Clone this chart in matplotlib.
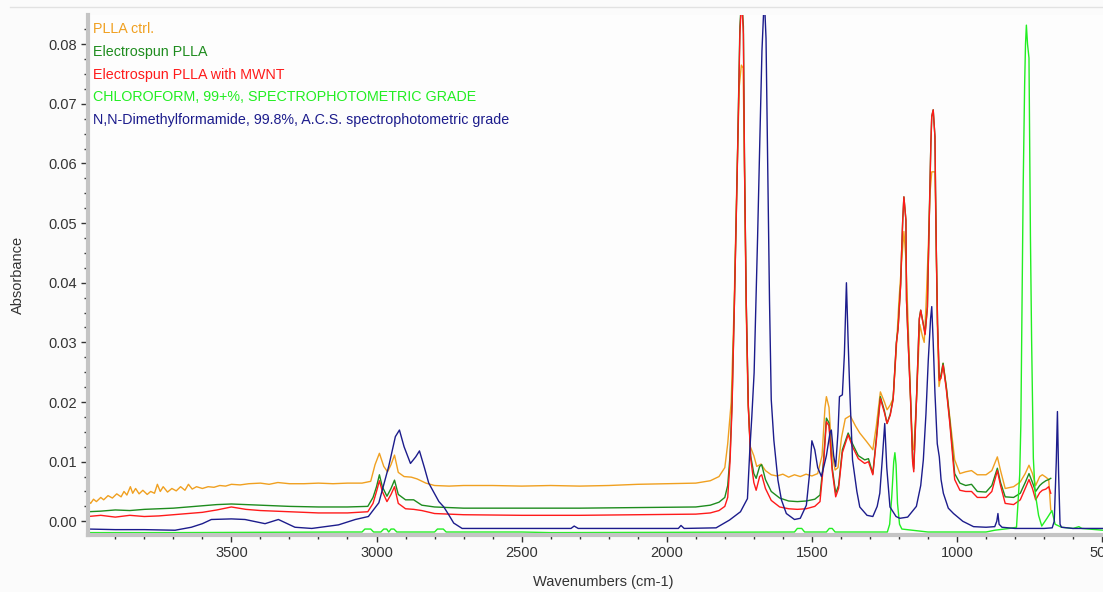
import matplotlib
matplotlib.use('Agg')
import matplotlib.pyplot as plt
from matplotlib.lines import Line2D
from matplotlib.ticker import MultipleLocator

plt.rcParams['font.family'] = ['Liberation Sans', 'DejaVu Sans']

# ---- data (wavenumber cm-1, absorbance) ----
ctrl_wn = [3994, 3985, 3975, 3965, 3950, 3940, 3925, 3910, 3895, 3880, 3870, 3860, 3848, 3840,
           3830, 3818, 3805, 3790, 3778, 3765, 3755, 3745, 3735, 3720, 3705, 3690, 3675, 3660,
           3648, 3635, 3620, 3600, 3580, 3560, 3540, 3520, 3500, 3470, 3440, 3400, 3370, 3340,
           3300, 3250, 3200, 3150, 3100, 3050, 3020, 3005, 2990, 2975, 2962, 2950, 2938, 2925,
           2905, 2880, 2860, 2830, 2800, 2750, 2700, 2600, 2500, 2400, 2300, 2200, 2100, 2000,
           1900, 1850, 1820, 1800, 1790, 1778, 1768, 1758, 1750, 1743, 1737, 1732, 1727, 1720,
           1712, 1700, 1690, 1675, 1660, 1640, 1620, 1600, 1580, 1560, 1540, 1520, 1500, 1480,
           1465, 1455, 1450, 1441, 1432, 1420, 1410, 1398, 1385, 1375, 1368, 1350, 1335, 1312,
           1290, 1278, 1264, 1250, 1241, 1230, 1220, 1209, 1200, 1190, 1183, 1176, 1168, 1160,
           1153, 1149, 1140, 1128, 1119, 1113, 1107, 1099, 1093, 1087, 1076, 1072, 1068, 1062,
           1048, 1037, 1025, 1008, 990, 970, 950, 930, 900, 880, 861, 850, 834, 805, 782, 765,
           752, 740, 729, 715, 706, 694, 684, 677]
ctrl_abs = [0.0035, 0.0030, 0.0037, 0.0033, 0.0040, 0.0036, 0.0043, 0.0039, 0.0046, 0.0041,
            0.0050, 0.0044, 0.0058, 0.0047, 0.0055, 0.0046, 0.0052, 0.0045, 0.0050, 0.0047,
            0.0062, 0.0050, 0.0058, 0.0049, 0.0055, 0.0051, 0.0058, 0.0052, 0.0062, 0.0054,
            0.0058, 0.0055, 0.0058, 0.0057, 0.0060, 0.0059, 0.0062, 0.0061, 0.0063, 0.0064,
            0.0062, 0.0065, 0.0063, 0.0063, 0.0064, 0.0063, 0.0064, 0.0064, 0.0067, 0.0095,
            0.0114, 0.0092, 0.0083, 0.0095, 0.0111, 0.0082, 0.0075, 0.0074, 0.0071, 0.0064,
            0.0060, 0.0059, 0.0060, 0.0060, 0.0059, 0.0060, 0.0059, 0.0060, 0.0062, 0.0063,
            0.0064, 0.0068, 0.0075, 0.0090, 0.0130, 0.0200, 0.0360, 0.0580, 0.0730, 0.0765,
            0.0760, 0.0590, 0.0370, 0.0200, 0.0125, 0.0110, 0.0092, 0.0096, 0.0085, 0.0078,
            0.0076, 0.0079, 0.0074, 0.0078, 0.0075, 0.0079, 0.0076, 0.0080, 0.0110, 0.0190,
            0.0209, 0.0191, 0.0120, 0.0086, 0.0090, 0.0140, 0.0172, 0.0175, 0.0177, 0.0160,
            0.0148, 0.0134, 0.0120, 0.0160, 0.0217, 0.0200, 0.0187, 0.0195, 0.0206, 0.0290,
            0.0370, 0.0440, 0.0486, 0.0440, 0.0326, 0.0206, 0.0125, 0.0120, 0.0200, 0.0330,
            0.0310, 0.0300, 0.0360, 0.0460, 0.0550, 0.0586, 0.0586, 0.0480, 0.0332, 0.0226,
            0.0265, 0.0226, 0.0175, 0.0103, 0.0080, 0.0083, 0.0085, 0.0078, 0.0078, 0.0085,
            0.0108, 0.0085, 0.0055, 0.0058, 0.0066, 0.0080, 0.0094, 0.0080, 0.0060, 0.0075,
            0.0078, 0.0074, 0.0070, 0.0019]

espun_wn = [3994, 3950, 3900, 3850, 3800, 3750, 3700, 3650, 3600, 3550, 3500, 3450, 3400, 3350,
            3300, 3200, 3100, 3030, 3012, 3000, 2990, 2980, 2964, 2950, 2938, 2925, 2900, 2872,
            2844, 2800, 2700, 2500, 2300, 2100, 1900, 1850, 1820, 1800, 1790, 1782, 1775, 1767,
            1757, 1748, 1742, 1736, 1732, 1726, 1719, 1711, 1700, 1692, 1680, 1673, 1660, 1640,
            1611, 1580, 1550, 1520, 1490, 1472, 1460, 1450, 1441, 1430, 1418, 1408, 1395, 1375,
            1360, 1340, 1318, 1305, 1290, 1278, 1264, 1250, 1241, 1230, 1220, 1209, 1203, 1194,
            1191, 1187, 1183, 1176, 1174, 1170, 1160, 1153, 1149, 1140, 1130, 1125, 1116, 1110,
            1102, 1099, 1096, 1093, 1090, 1087, 1082, 1076, 1074, 1071, 1067, 1061, 1055, 1048,
            1037, 1025, 1008, 990, 970, 950, 930, 900, 880, 861, 850, 834, 805, 782, 765, 752,
            740, 729, 715, 706, 694, 684, 677]
espun_abs = [0.0016, 0.0017, 0.0019, 0.0018, 0.0020, 0.0021, 0.0022, 0.0024, 0.0026, 0.0028,
             0.0029, 0.0028, 0.0027, 0.0026, 0.0025, 0.0024, 0.0024, 0.0025, 0.0040, 0.0058,
             0.0078, 0.0058, 0.0042, 0.0055, 0.0069, 0.0045, 0.0036, 0.0036, 0.0027, 0.0024,
             0.0022, 0.0022, 0.0022, 0.0023, 0.0024, 0.0027, 0.0032, 0.0040, 0.0060, 0.0110,
             0.0200, 0.0365, 0.0595, 0.0830, 0.0880, 0.0830, 0.0595, 0.0365, 0.0195, 0.0110,
             0.0080, 0.0072, 0.0092, 0.0095, 0.0070, 0.0050, 0.0039, 0.0034, 0.0033, 0.0034,
             0.0037, 0.0044, 0.0100, 0.0173, 0.0165, 0.0090, 0.0047, 0.0060, 0.0120, 0.0148,
             0.0130, 0.0110, 0.0103, 0.0105, 0.0080, 0.0140, 0.0209, 0.0185, 0.0164, 0.0180,
             0.0206, 0.0300, 0.0324, 0.0399, 0.0450, 0.0505, 0.0544, 0.0505, 0.0371, 0.0321,
             0.0206, 0.0105, 0.0088, 0.0200, 0.0340, 0.0354, 0.0330, 0.0315, 0.0360, 0.0427,
             0.0500, 0.0572, 0.0634, 0.0679, 0.0690, 0.0645, 0.0556, 0.0444, 0.0332, 0.0240,
             0.0245, 0.0265, 0.0226, 0.0170, 0.0080, 0.0064, 0.0060, 0.0062, 0.0050, 0.0049,
             0.0060, 0.0089, 0.0065, 0.0041, 0.0040, 0.0047, 0.0065, 0.0080, 0.0065, 0.0050,
             0.0060, 0.0064, 0.0068, 0.0070, 0.0072]

mwnt_wn = espun_wn
mwnt_abs = [0.0008, 0.0010, 0.0007, 0.0010, 0.0008, 0.0009, 0.0011, 0.0013, 0.0015, 0.0019,
            0.0024, 0.0020, 0.0018, 0.0017, 0.0016, 0.0014, 0.0014, 0.0016, 0.0030, 0.0050,
            0.0068, 0.0050, 0.0033, 0.0045, 0.0058, 0.0030, 0.0021, 0.0020, 0.0018, 0.0013,
            0.0011, 0.0010, 0.0010, 0.0011, 0.0012, 0.0014, 0.0018, 0.0025, 0.0040, 0.0100,
            0.0192, 0.0363, 0.0590, 0.0817, 0.0880, 0.0817, 0.0590, 0.0363, 0.0192, 0.0106,
            0.0065, 0.0052, 0.0075, 0.0078, 0.0055, 0.0035, 0.0024, 0.0021, 0.0020, 0.0021,
            0.0025, 0.0033, 0.0095, 0.0167, 0.0160, 0.0085, 0.0041, 0.0055, 0.0115, 0.0145,
            0.0125, 0.0105, 0.0097, 0.0100, 0.0078, 0.0135, 0.0206, 0.0182, 0.0164, 0.0178,
            0.0204, 0.0298, 0.0322, 0.0397, 0.0450, 0.0505, 0.0544, 0.0505, 0.0371, 0.0321,
            0.0203, 0.0100, 0.0083, 0.0198, 0.0338, 0.0354, 0.0330, 0.0313, 0.0358, 0.0427,
            0.0500, 0.0572, 0.0634, 0.0679, 0.0690, 0.0645, 0.0556, 0.0444, 0.0332, 0.0236,
            0.0240, 0.0262, 0.0222, 0.0165, 0.0070, 0.0052, 0.0050, 0.0050, 0.0040, 0.0040,
            0.0050, 0.0085, 0.0060, 0.0030, 0.0028, 0.0036, 0.0055, 0.0070, 0.0055, 0.0036,
            0.0048, 0.0052, 0.0054, 0.0058, 0.0047]

chcl3_wn = [3994, 3700, 3100, 3050, 3040, 3020, 3010, 2985, 2975, 2965, 2958, 2950, 2940, 2930,
            2800, 2790, 2770, 2760, 2500, 2400, 1560, 1550, 1535, 1525, 1450, 1440, 1430, 1420,
            1240, 1232, 1225, 1218, 1214, 1210, 1205, 1198, 1190, 1100, 900, 870, 820, 795, 784,
            780, 776, 772, 767, 764, 761, 757, 752, 747, 743, 737, 731, 719, 708, 690, 673, 662,
            640, 600, 580, 570, 497]
chcl3_abs = [-0.0019, -0.0019, -0.0018, -0.0018, -0.0013, -0.0013, -0.0018, -0.0018, -0.0013,
             -0.0013, -0.0018, -0.0013, -0.0013, -0.0018, -0.0018, -0.0013, -0.0013, -0.0018,
             -0.0018, -0.0019, -0.0018, -0.0012, -0.0012, -0.0018, -0.0018, -0.0012, -0.0012,
             -0.0018, -0.0018, -0.0005, 0.0040, 0.0100, 0.0115, 0.0095, 0.0030, -0.0005,
             -0.0013, -0.0018, -0.0018, -0.0015, -0.0012, -0.0010, 0.0078, 0.0163, 0.0363,
             0.0561, 0.0732, 0.0800, 0.0832, 0.0800, 0.0777, 0.0476, 0.0305, 0.0106, 0.0049,
             0.0010, -0.0008, 0.0005, 0.0018, -0.0005, -0.0010, -0.0012, -0.0009, -0.0012,
             -0.0015]

dmf_wn = [3994, 3900, 3800, 3694, 3638, 3600, 3569, 3500, 3453, 3384, 3338, 3281, 3223, 3131,
          3073, 3028, 2992, 2958, 2935, 2921, 2905, 2883, 2865, 2852, 2835, 2820, 2785, 2768,
          2750, 2734, 2705, 2500, 2330, 2319, 2305, 2000, 1960, 1951, 1940, 1830, 1784, 1746,
          1722, 1714, 1707, 1699, 1687, 1679, 1672, 1664, 1658, 1652, 1646, 1640, 1631, 1617,
          1605, 1588, 1560, 1540, 1519, 1508, 1500, 1490, 1480, 1467, 1450, 1437, 1433, 1425,
          1418, 1410, 1405, 1395, 1388, 1381, 1375, 1370, 1360, 1345, 1335, 1310, 1290, 1275,
          1266, 1258, 1249, 1242, 1231, 1210, 1197, 1170, 1140, 1125, 1116, 1107, 1099, 1091,
          1087, 1082, 1076, 1068, 1061, 1055, 1047, 1030, 1012, 980, 943, 900, 870, 863, 859,
          855, 845, 800, 700, 672, 665, 658, 654, 650, 645, 640, 600, 497]
dmf_abs = [-0.0013, -0.0014, -0.0014, -0.0015, -0.0010, -0.0004, 0.0003, 0.0004, 0.0003,
           -0.0004, 0.0003, -0.0010, -0.0012, -0.0006, 0.0003, 0.0008, 0.0031, 0.0092, 0.0142,
           0.0153, 0.0125, 0.0097, 0.0108, 0.0118, 0.0090, 0.0064, 0.0033, 0.0024, 0.0010,
           -0.0003, -0.0012, -0.0012, -0.0012, -0.0008, -0.0012, -0.0012, -0.0012, -0.0007,
           -0.0012, -0.0011, 0.0002, 0.0016, 0.0038, 0.0118, 0.0175, 0.0249, 0.0477, 0.0646,
           0.0789, 0.0880, 0.0810, 0.0590, 0.0370, 0.0204, 0.0136, 0.0069, 0.0036, 0.0013,
           0.0003, 0.0005, 0.0027, 0.0080, 0.0135, 0.0120, 0.0090, 0.0075, 0.0110, 0.0150,
           0.0153, 0.0110, 0.0092, 0.0150, 0.0209, 0.0212, 0.0280, 0.0400, 0.0300, 0.0226,
           0.0103, 0.0050, 0.0024, 0.0010, 0.0008, 0.0025, 0.0047, 0.0100, 0.0164, 0.0090,
           0.0024, 0.0008, 0.0005, 0.0007, 0.0025, 0.0060, 0.0103, 0.0180, 0.0270, 0.0340,
           0.0360, 0.0300, 0.0215, 0.0130, 0.0108, 0.0070, 0.0047, 0.0022, 0.0013, 0.0000,
           -0.0009, -0.0010, -0.0009, 0.0000, 0.0013, -0.0005, -0.0010, -0.0012, -0.0012,
           -0.0011, 0.0000, 0.0100, 0.0184, 0.0080, -0.0005, -0.0010, -0.0012, -0.0012]

labels = ['PLLA ctrl.', 'Electrospun PLLA', 'Electrospun PLLA with MWNT',
          'CHLOROFORM, 99+%, SPECTROPHOTOMETRIC GRADE',
          'N,N-Dimethylformamide, 99.8%, A.C.S. spectrophotometric grade']
colors = ['#f0a020', '#1e8c1e', '#ff1a1a', '#22ee22', '#1c1c8c']

series = [(ctrl_wn, ctrl_abs), (espun_wn, espun_abs), (mwnt_wn, mwnt_abs),
          (chcl3_wn, chcl3_abs), (dmf_wn, dmf_abs)]

fig = plt.figure(figsize=(11.03, 5.92), dpi=100, facecolor='#fbfbfb')
ax = fig.add_axes([88 / 1103, 1 - 535 / 592, 1 - 88 / 1103, 520 / 592])
ax.set_facecolor('#fdfdfd')

for (wn, ab), c in zip(series, colors):
    ax.plot(wn, ab, color=c, lw=1.0)

ax.set_xlim(3994, 497)
ax.set_ylim(-0.0023, 0.0849)
ax.xaxis.set_major_locator(MultipleLocator(500))
ax.xaxis.set_minor_locator(MultipleLocator(100))
ax.yaxis.set_major_locator(MultipleLocator(0.01))
ax.yaxis.set_minor_locator(MultipleLocator(0.0025))
ax.yaxis.set_major_formatter(lambda v, p: '%.2f' % v)
ax.xaxis.set_major_formatter(lambda v, p: '%d' % v)

for s in ['top', 'right']:
    ax.spines[s].set_visible(False)
for s in ['left', 'bottom']:
    ax.spines[s].set_color('#c4c4c4')
    ax.spines[s].set_linewidth(3)
ax.tick_params(which='major', direction='out', length=5, width=1, color='#333333',
               labelsize=10.5, labelcolor='#333333', pad=3)
ax.tick_params(which='minor', direction='out', length=3, width=1, color='#333333')

fig.text(18 / 1103, 1 - 275 / 592, 'Absorbance', rotation=90, ha='center', va='center',
         fontsize=10.5, color='#333333')
fig.text(603 / 1103, 1 - 582 / 592, 'Wavenumbers (cm-1)', ha='center', va='center',
         fontsize=10.5, color='#333333')

# series names stacked at upper left
for i, (lab, c) in enumerate(zip(labels, colors)):
    fig.text(93 / 1103, 1 - (29 + 22.8 * i) / 592, lab, color=c, fontsize=10.3,
             ha='left', va='center')

fig.add_artist(Line2D([10 / 1103, 1], [1 - 7 / 592, 1 - 7 / 592], color='#e2e2e2', lw=1))

fig.savefig('out.png', dpi=100, facecolor=fig.get_facecolor())
